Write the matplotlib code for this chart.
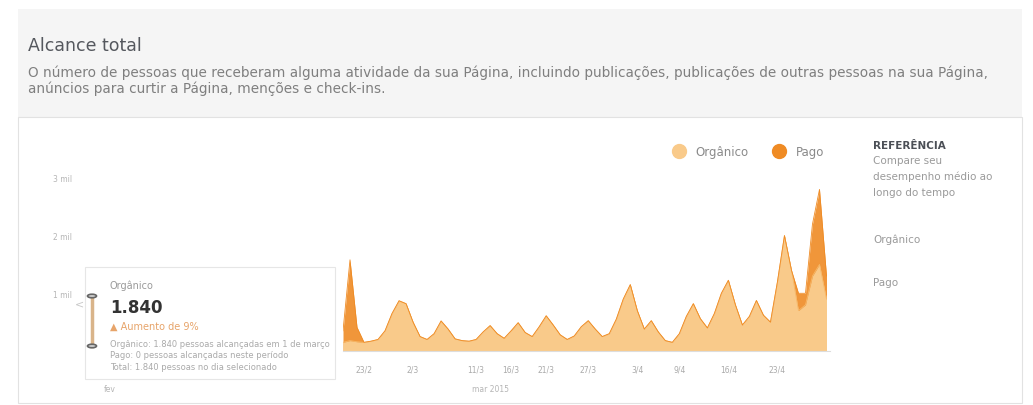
import matplotlib.pyplot as plt
from matplotlib.patches import Rectangle, Circle
from matplotlib.lines import Line2D

# daily reach, ~70 days
days = list(range(70))
organico = [150, 180, 160, 150, 170, 200, 350, 650, 870, 820,
            500, 250, 200, 300, 520, 380, 210, 180, 170, 200,
            330, 440, 300, 220, 350, 490, 320, 250, 420, 610,
            450, 280, 200, 260, 420, 525, 380, 250, 300, 550,
            900, 1150, 700, 380, 525, 330, 180, 150, 300, 600,
            820, 560, 400, 650, 1000, 1225, 800, 450, 600, 875,
            620, 500, 1200, 2000, 1400, 700, 800, 1300, 1500, 900]
pago = [200, 1400, 250, 0, 0, 0, 0, 0, 0, 0,
        0, 0, 0, 0, 0, 0, 0, 0, 0, 0,
        0, 0, 0, 0, 0, 0, 0, 0, 0, 0,
        0, 0, 0, 0, 0, 0, 0, 0, 0, 0,
        0, 0, 0, 0, 0, 0, 0, 0, 0, 0,
        0, 0, 0, 0, 0, 0, 0, 0, 0, 0,
        0, 0, 0, 0, 0, 300, 200, 900, 1300, 400]
tick_days = [3, 10, 19, 24, 29, 35, 42, 48, 55, 62]
tick_labels = ['23/2', '2/3', '11/3', '16/3', '21/3', '27/3', '3/4', '9/4', '16/4', '23/4']
y_ticks = [1000, 2000, 3000]
y_labels = ['1 mil', '2 mil', '3 mil']

C_ORG = '#f9ca8a'
C_PAGO = '#ef8b24'

W, H = 1033, 406
fig = plt.figure(figsize=(W / 100, H / 100), dpi=100)
fig.patch.set_facecolor('white')


def px(x, y):
    return x / W, 1 - y / H


# background panels
fig.patches.append(Rectangle(px(18, 118), (1022 - 18) / W, 108 / H, transform=fig.transFigure,
                             facecolor='#f5f5f5', edgecolor='none', zorder=0))
fig.patches.append(Rectangle(px(18, 404), (1022 - 18) / W, 286 / H, transform=fig.transFigure,
                             facecolor='white', edgecolor='#e2e2e2', lw=0.8, zorder=0))

# header
fig.text(*px(28, 46), 'Alcance total', fontsize=12.5, color='#55585e', va='center')
fig.text(*px(28, 73), 'O número de pessoas que receberam alguma atividade da sua Página, incluindo publicações, '
         'publicações de outras pessoas na sua Página,', fontsize=9.8, color='#7f7f7f', va='center')
fig.text(*px(28, 89), 'anúncios para curtir a Página, menções e check-ins.', fontsize=9.8,
         color='#7f7f7f', va='center')

# chart
l, b = px(343, 352)
r, t = px(830, 150)
ax = fig.add_axes([l, b, r - l, t - b])
ax.set_zorder(2)
total = [o + p for o, p in zip(organico, pago)]
ax.fill_between(days, 0, total, color=C_PAGO, lw=0, alpha=0.9)
ax.fill_between(days, 0, organico, color=C_ORG, lw=0)
ax.plot(days, organico, color='#f6b868', lw=0.6)
ax.plot(days, total, color=C_PAGO, lw=0.6)
ax.set_xlim(0, 69.5)
ax.set_ylim(0, 3500)
ax.set_yticks(y_ticks)
ax.set_yticklabels(y_labels)
ax.tick_params(axis='y', length=0, pad=195, labelsize=5.5, labelcolor='#b5b5b5')
ax.set_xticks(tick_days)
ax.set_xticklabels(tick_labels)
ax.tick_params(axis='x', length=0, pad=10, labelsize=5.5, labelcolor='#aaaaaa')
for s in ['top', 'right', 'left']:
    ax.spines[s].set_visible(False)
ax.spines['bottom'].set_color('#dddddd')
ax.set_facecolor('none')
fig.text(*px(490, 390), 'mar 2015', fontsize=5.5, color='#b5b5b5', ha='center', va='center')
fig.text(*px(110, 390), 'fev', fontsize=5.5, color='#b5b5b5', ha='center', va='center')

# legend
leg = ax.legend(handles=[Line2D([], [], marker='o', ls='', ms=10, color=C_ORG, label='Orgânico'),
                         Line2D([], [], marker='o', ls='', ms=10, color=C_PAGO, label='Pago')],
                loc='upper right', ncol=2, frameon=False, fontsize=8.5, handletextpad=0.4,
                columnspacing=1.6, bbox_to_anchor=(1.01, 1.07))
for tx in leg.get_texts():
    tx.set_color('#8a8a8a')

# tooltip
fig.patches.append(Rectangle(px(85, 380), 250 / W, 112 / H, transform=fig.transFigure,
                             facecolor='white', edgecolor='#e6e6e6', lw=0.8, zorder=3))
fig.text(*px(79, 304), '<', fontsize=8, color='#c8c8c8', va='center', ha='center', zorder=6)
fig.lines.append(Line2D([92 / W, 92 / W], [1 - 297 / H, 1 - 347 / H], transform=fig.transFigure,
                        color='#d9b48a', lw=2.5, zorder=4))
for yy in (297, 347):
    fig.patches.append(Circle(px(92, yy), 4.5 / W, transform=fig.transFigure,
                              facecolor='#cfcfcf', edgecolor='#666666', lw=1.2, zorder=5))
fig.text(*px(110, 286), 'Orgânico', fontsize=7, color='#9a9a9a', va='center', zorder=6)
fig.text(*px(110, 308), '1.840', fontsize=12, color='#333333', fontweight='bold', va='center', zorder=6)
fig.text(*px(110, 327), '▲ Aumento de 9%', fontsize=7, color='#e7a46a', va='center', zorder=6)
fig.text(*px(110, 345), 'Orgânico: 1.840 pessoas alcançadas em 1 de março', fontsize=6,
         color='#aaaaaa', va='center', zorder=6)
fig.text(*px(110, 356), 'Pago: 0 pessoas alcançadas neste período', fontsize=6,
         color='#aaaaaa', va='center', zorder=6)
fig.text(*px(110, 368), 'Total: 1.840 pessoas no dia selecionado', fontsize=6,
         color='#aaaaaa', va='center', zorder=6)

# right panel
fig.text(*px(873, 146), 'REFERÊNCIA', fontsize=7.5, color='#4b4f56', fontweight='bold', va='center')
for i, s in enumerate(['Compare seu', 'desempenho médio ao', 'longo do tempo']):
    fig.text(*px(873, 161 + i * 16), s, fontsize=7.5, color='#9a9a9a', va='center')
fig.text(*px(873, 240), 'Orgânico', fontsize=7.5, color='#9a9a9a', va='center')
fig.text(*px(873, 283), 'Pago', fontsize=7.5, color='#9a9a9a', va='center')

fig.savefig('out.png', dpi=100)
